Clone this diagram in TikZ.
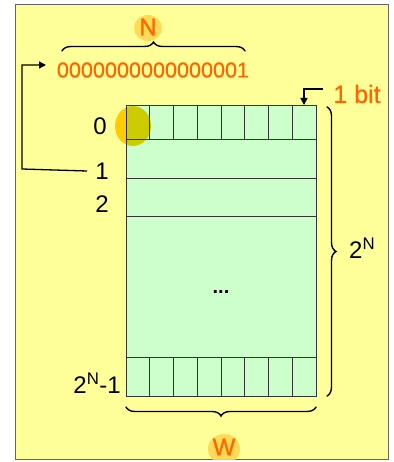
\documentclass[tikz,border=0pt]{standalone}
\usepackage{fontspec}
\setmainfont{Liberation Sans}
\usetikzlibrary{decorations.pathreplacing,arrows.meta}
\definecolor{bgyellow}{RGB}{255,255,153}
\definecolor{cellgreen}{RGB}{204,255,204}
\definecolor{orangetxt}{RGB}{255,102,0}
\definecolor{glowgold}{RGB}{255,204,0}
\definecolor{softglow}{RGB}{255,214,80}
\definecolor{olivecell}{RGB}{204,204,0}
\definecolor{gridline}{RGB}{51,51,51}
\begin{document}
\begin{tikzpicture}[x=1pt,y=-1pt,
  lbl/.style={font=\fontsize{24}{28}\selectfont, inner sep=0pt},
  orangelbl/.style={font=\fontsize{24}{28}\selectfont\addfontfeature{FakeBold=0.6}, text=orangetxt, inner sep=0pt},
  bracestyle/.style={decorate, decoration={brace, amplitude=9pt}, line width=1.4pt, line cap=round},
  conn/.style={line width=1.3pt, -{Triangle[length=7pt,width=7pt]}},
  gridl/.style={draw=gridline, line width=0.9pt}]
\useasboundingbox (0,0) rectangle (393,462);
% background
\fill[bgyellow, draw=gray!80!black, line width=1pt] (15,5) rectangle (388,459);
% glows
\fill[softglow, opacity=0.9] (148,28) ellipse [x radius=14, y radius=13];
\begin{scope}
\clip (15,5) rectangle (388,459);
\fill[softglow, opacity=0.9] (224,449) ellipse [x radius=16, y radius=15];
\end{scope}
\fill[glowgold] (133,126) ellipse [x radius=18, y radius=20];
% memory grid
\fill[cellgreen] (126,105) rectangle (316,396);
\begin{scope}
\clip (126,105) rectangle (316,396);
\fill[olivecell] (133,126) ellipse [x radius=18, y radius=20];
\end{scope}
\draw[gridl] (126,105) rectangle (316,396);
\draw[gridl] (126,139) -- (316,139);
\draw[gridl] (126,178) -- (316,178);
\draw[gridl] (126,216) -- (316,216);
\draw[gridl] (126,357) -- (316,357);
\foreach \i in {1,...,7} {
  \draw[gridl] ({126+\i*23.75},105) -- ({126+\i*23.75},139);
  \draw[gridl] ({126+\i*23.75},357) -- ({126+\i*23.75},396);
}
% texts
\node[orangelbl] (N) at (148,27) {N};
\node[orangelbl, font=\fontsize{21.6}{26}\selectfont\addfontfeature{FakeBold=0.6}] (num) at (153,70) {0000000000000001};
\node[lbl] (l0) at (100,126) {0};
\node[lbl] (l1) at (102,171) {1};
\node[lbl] (l2) at (102,204) {2};
\node[lbl, anchor=east] (lN) at (121,383) {2\textsuperscript{N}-1};
\node[lbl, anchor=west] (twoN) at (349,248) {2\textsuperscript{N}};
\node[orangelbl, font=\fontsize{25}{29}\selectfont\addfontfeature{FakeBold=0.6}] (bit) at (357,94) {1 bit};
\node[orangelbl] (W) at (224,447) {W};
\node[font=\fontsize{20}{24}\selectfont\bfseries, inner sep=0pt] (dots) at (221,292) {...};
% braces
\coordinate (bNl) at (62,51);
\coordinate (bNr) at (245,51);
\draw[bracestyle] (bNl) -- (bNr);
\coordinate (bRt) at (327,107);
\coordinate (bRb) at (327,396);
\draw[bracestyle] (bRt) -- (bRb);
\coordinate (bWr) at (316,407);
\coordinate (bWl) at (126,407);
\draw[bracestyle] (bWr) -- (bWl);
% connectors
\coordinate (corner) at (22,169);
\coordinate (numin) at (46,65);
\draw[conn] (l1.west) ++(-8,0) coordinate (l1s) -- (corner) |- (numin);
\coordinate (bitstart) at (323,89);
\coordinate (celltop) at (304,105);
\draw[conn] (bitstart) -| (celltop);
\end{tikzpicture}
\end{document}
